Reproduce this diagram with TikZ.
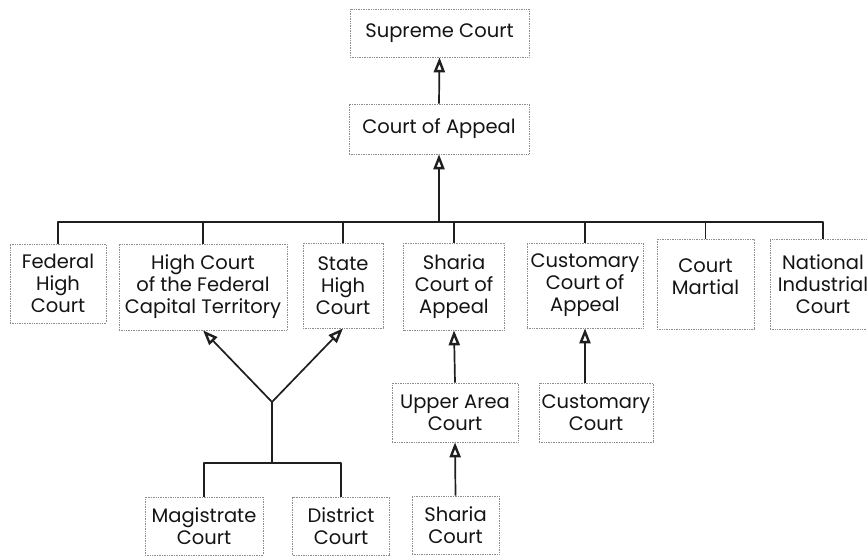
\documentclass[tikz,border=0pt]{standalone}
\usepackage{fontspec}
\setmainfont{Poppins}
\usetikzlibrary{arrows.meta}
\begin{document}
\begin{tikzpicture}[x=1pt,y=-1pt,
  court/.style={draw=black!45, densely dotted, line width=0.7pt, inner sep=0pt,
    align=center, font=\fontsize{19.5}{22}\selectfont, text=black!92},
  link/.style={line width=1.7pt, draw=black!88, line join=round},
  up/.style={link, -{Triangle[open,length=15pt,width=11pt,line width=2.4pt]}}]
\useasboundingbox (0,0) rectangle (867,556);
% top
\node[court, minimum width=179pt, minimum height=48pt] (sup) at (439.5,33) {Supreme Court};
\node[court, minimum width=180pt, minimum height=50pt] (coa) at (439,129) {Court of Appeal};
% middle row
\node[court, minimum width=96pt, minimum height=79pt] (fhc) at (58,283.5) {Federal\\High\\Court};
\node[court, minimum width=168pt, minimum height=86pt] (fct) at (203,287) {High Court\\of the Federal\\Capital Territory};
\node[court, minimum width=80pt, minimum height=85pt] (shc) at (343,285.5) {State\\High\\Court};
\node[court, minimum width=101pt, minimum height=87pt] (sca) at (454,286.5) {Sharia\\Court of\\Appeal};
\node[court, minimum width=116pt, minimum height=85pt] (cca) at (585,285.5) {Customary\\Court of\\Appeal};
\node[court, minimum width=97pt, minimum height=90pt] (cm) at (705.5,284) {Court\\Martial\\[-8pt]\mbox{}};
\node[court, minimum width=106pt, minimum height=90pt] (nic) at (823,284) {National\\Industrial\\Court};
% lower rows
\node[court, minimum width=126pt, minimum height=59pt] (uac) at (455,412.5) {Upper Area\\Court};
\node[court, minimum width=114pt, minimum height=59pt] (cc) at (596,412.5) {Customary\\Court};
\node[court, minimum width=118pt, minimum height=58pt] (mag) at (204,526) {Magistrate\\Court};
\node[court, minimum width=97pt, minimum height=58pt] (dis) at (341,526) {District\\Court};
\node[court, minimum width=87pt, minimum height=58pt] (sc) at (455.5,525) {Sharia\\Court};
% connectors
\coordinate (bus) at (439,222);
\draw[link] (fhc.north) |- (bus) -| (nic.north);
\foreach \n in {fct,shc,sca,cca,cm} \draw[link] (\n.north) -- (\n.north |- bus);
\draw[up] (bus) -- (coa.south);
\draw[up] (coa.north) -- (sup.south);
\coordinate (fork) at (272,402);
\coordinate (bar) at (272,463);
\draw[up] (fork) -- (fct.south);
\draw[up] (fork) -- (shc.south);
\draw[link] (mag.north) |- (bar) -| (dis.north);
\draw[link] (bar) -- (fork);
\draw[up] (uac.north) -- (sca.south);
\draw[up] (sc.north) -- (uac.south);
\draw[up] (cc.north -| cca.south) -- (cca.south);
\end{tikzpicture}
\end{document}
